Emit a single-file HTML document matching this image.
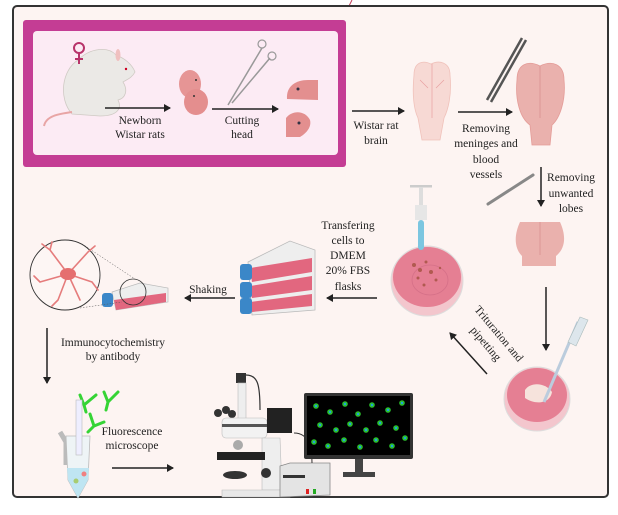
<!DOCTYPE html>
<html><head><meta charset="utf-8"><style>
html,body{margin:0;padding:0;background:#fff;}
svg{display:block;}
text{font-family:"Liberation Serif",serif;font-size:11.5px;fill:#222;text-anchor:middle;}
</style></head><body>
<svg width="618" height="515" viewBox="0 0 618 515" xmlns="http://www.w3.org/2000/svg">
<defs>
<marker id="ah" markerWidth="8" markerHeight="8" refX="6" refY="4" orient="auto" markerUnits="userSpaceOnUse"><path d="M0,0 L7,4 L0,8 z" fill="#222"/></marker>
</defs>
<rect x="0" y="0" width="618" height="515" fill="#fff"/>
<path d="M352,0 L348,8" stroke="#c43d5a" stroke-width="1"/>
<rect x="13" y="6" width="595" height="491" rx="4" fill="#fdf4f2" stroke="#333" stroke-width="2"/>
<rect x="23" y="20" width="323" height="147" rx="3" fill="#c43d94"/>
<rect x="33" y="31" width="305" height="124" rx="4" fill="#fcebf4"/>

<!-- rat -->
<path d="M72,114 C58,98 62,70 78,60 C90,48 108,46 116,55 C124,58 132,64 135,72 C132,78 126,80 123,82 C128,90 126,98 118,100 C122,108 118,116 100,116 Z" fill="#ebe9e6" stroke="#cfcac4" stroke-width="0.8"/>
<path d="M72,112 C58,114 46,116 44,126" stroke="#e8a5a5" stroke-width="2" fill="none"/>
<circle cx="126" cy="69" r="1.2" fill="#c02"/>
<ellipse cx="118" cy="55" rx="2.5" ry="6" fill="#f0c0c0"/>
<circle cx="79" cy="48" r="5" fill="none" stroke="#b8336a" stroke-width="2"/>
<path d="M79,53 L79,64 M75,59 L83,59" stroke="#b8336a" stroke-width="2"/>

<line x1="105" y1="108" x2="170" y2="108" stroke="#222" stroke-width="1.5" marker-end="url(#ah)"/>
<text x="140" y="124">Newborn</text>
<text x="140" y="138">Wistar rats</text>

<!-- pups -->
<ellipse cx="190" cy="84" rx="11" ry="14" fill="#e69595"/>
<ellipse cx="196" cy="102" rx="12" ry="13" fill="#e48e8e"/>
<circle cx="196" cy="80" r="1" fill="#333"/><circle cx="194" cy="96" r="1" fill="#333"/>
<!-- scissors -->
<path d="M228,105 L262,48 M232,103 L270,58" stroke="#999" stroke-width="1.5"/>
<circle cx="262" cy="44" r="4" fill="none" stroke="#999" stroke-width="1.2"/>
<circle cx="272" cy="56" r="4" fill="none" stroke="#999" stroke-width="1.2"/>

<line x1="212" y1="109" x2="278" y2="109" stroke="#222" stroke-width="1.5" marker-end="url(#ah)"/>
<text x="242" y="124">Cutting</text>
<text x="242" y="138">head</text>

<!-- heads -->
<path d="M287,99 C286,86 296,80 308,80 L318,80 L318,100 Z" fill="#e38f8f"/>
<path d="M286,137 L286,118 C292,110 305,110 310,120 C312,128 305,134 300,137 Z" fill="#e38f8f"/>
<circle cx="298" cy="89" r="1.5" fill="#334"/><circle cx="299" cy="123" r="1.5" fill="#334"/>

<line x1="352" y1="111" x2="404" y2="111" stroke="#222" stroke-width="1.5" marker-end="url(#ah)"/>
<text x="376" y="129">Wistar rat</text>
<text x="376" y="144">brain</text>

<!-- brain1 -->
<path d="M414,75 C414,62 423,60 431,64 C439,60 450,62 450,75 C452,95 448,110 444,118 L440,140 L422,140 L418,118 C414,110 412,95 414,75 Z" fill="#f7d9d4" stroke="#f0c2bb" stroke-width="0.8"/>
<path d="M432,64 L432,118 M420,80 L428,88 M444,80 L436,88" stroke="#e7a0a0" stroke-width="0.7" fill="none"/>
<!-- forceps -->
<path d="M487,100 L522,38 M491,102 L526,40" stroke="#555" stroke-width="2.5"/>

<line x1="458" y1="112" x2="512" y2="112" stroke="#222" stroke-width="1.5" marker-end="url(#ah)"/>
<text x="486" y="132">Removing</text>
<text x="486" y="147">meninges and</text>
<text x="486" y="163">blood</text>
<text x="486" y="178">vessels</text>

<!-- brain2 -->
<path d="M517,80 C517,64 528,60 540,66 C552,60 564,64 564,80 C566,100 560,118 552,125 L550,145 L532,145 L530,125 C520,118 515,100 517,80 Z" fill="#eab1ad" stroke="#e49c98" stroke-width="0.8"/>
<line x1="540" y1="66" x2="540" y2="118" stroke="#d99090" stroke-width="0.8"/>

<line x1="541" y1="167" x2="541" y2="206" stroke="#222" stroke-width="1.5" marker-end="url(#ah)"/>
<text x="571" y="181">Removing</text>
<text x="571" y="197">unwanted</text>
<text x="571" y="212">lobes</text>
<!-- scalpel -->
<path d="M488,204 L533,175" stroke="#888" stroke-width="3" stroke-linecap="round"/>

<!-- brain3 -->
<path d="M520,222 L560,222 C566,235 566,248 556,256 L556,266 L522,266 L522,256 C514,248 514,235 520,222 Z" fill="#eab1ad"/>
<line x1="540" y1="222" x2="540" y2="255" stroke="#d99090" stroke-width="0.8"/>

<line x1="546" y1="287" x2="546" y2="350" stroke="#222" stroke-width="1.5" marker-end="url(#ah)"/>

<!-- dish 2 -->
<ellipse cx="537" cy="399" rx="33" ry="32" fill="#f3c6cd" stroke="#ddd" stroke-width="1"/>
<ellipse cx="537" cy="395" rx="30" ry="27" fill="#e57f93"/>
<path d="M525,390 C530,382 545,382 552,392 C550,404 535,405 525,398 Z" fill="#f6e3dc"/>
<path d="M544,402 L578,322" stroke="#bcd" stroke-width="3"/>
<path d="M568,342 L580,317 L588,320 L576,346 Z" fill="#dde6ec" stroke="#abb" stroke-width="0.6"/>

<line x1="487" y1="374" x2="450" y2="333" stroke="#222" stroke-width="1.5" marker-end="url(#ah)"/>
<text transform="translate(496,336) rotate(50)">Trituration and</text>
<text transform="translate(483,346) rotate(50)">pipetting</text>

<!-- dish 1 -->
<ellipse cx="427" cy="281" rx="36" ry="35" fill="#f3c6cd" stroke="#ddd" stroke-width="1"/>
<ellipse cx="427" cy="277" rx="34" ry="30" fill="#e57f93"/>
<ellipse cx="430" cy="280" rx="18" ry="15" fill="none" stroke="#d57088" stroke-width="0.8"/>
<g fill="#b05a50"><circle cx="414" cy="265" r="2"/><circle cx="420" cy="270" r="2"/><circle cx="426" cy="262" r="1.5"/><circle cx="431" cy="272" r="2"/><circle cx="418" cy="278" r="1.5"/><circle cx="436" cy="280" r="1.5"/><circle cx="424" cy="285" r="1.5"/><circle cx="440" cy="268" r="1.2"/></g>
<rect x="410" y="185" width="22" height="2.5" fill="#ccc"/>
<rect x="419" y="187" width="4" height="20" fill="#ddd"/>
<rect x="415" y="205" width="12" height="15" fill="#e6e6e6"/>
<rect x="418" y="220" width="6" height="30" rx="3" fill="#7cc6e0"/>

<line x1="377" y1="298" x2="327" y2="298" stroke="#222" stroke-width="1.5" marker-end="url(#ah)"/>
<text x="348" y="229">Transfering</text>
<text x="348" y="244">cells to</text>
<text x="348" y="259">DMEM</text>
<text x="348" y="274">20% FBS</text>
<text x="348" y="290">flasks</text>

<!-- flasks stack -->
<path d="M248,262 L290,241 L315,250 L315,310 L252,315 Z" fill="#eeeeee" stroke="#bbb" stroke-width="0.8"/>
<path d="M250,268 L312,258 L312,272 L252,282 Z" fill="#e2677f"/>
<path d="M250,286 L312,276 L312,290 L252,298 Z" fill="#e2677f"/>
<path d="M250,302 L312,294 L312,306 L252,312 Z" fill="#e2677f"/>
<rect x="240" y="264" width="12" height="16" rx="3" fill="#3b87c8"/>
<rect x="240" y="282" width="12" height="16" rx="3" fill="#3b87c8"/>
<rect x="240" y="298" width="12" height="16" rx="3" fill="#3b87c8"/>

<line x1="235" y1="298" x2="185" y2="298" stroke="#222" stroke-width="1.5" marker-end="url(#ah)"/>
<text x="208" y="293">Shaking</text>

<!-- small flask & zoom circle -->
<path d="M112,292 L140,283 L168,288 L168,302 L116,310 Z" fill="#eee" stroke="#bbb" stroke-width="0.7"/>
<path d="M114,300 L166,293 L166,302 L116,310 Z" fill="#e2677f"/>
<rect x="102" y="293" width="11" height="14" rx="3" fill="#3b87c8"/>
<circle cx="133" cy="292" r="13" fill="none" stroke="#333" stroke-width="0.8"/>
<line x1="82" y1="244" x2="135" y2="279" stroke="#555" stroke-width="0.5" stroke-dasharray="1.5,1.5"/>
<line x1="80" y1="308" x2="122" y2="302" stroke="#555" stroke-width="0.5" stroke-dasharray="1.5,1.5"/>
<circle cx="65" cy="275" r="35" fill="#fdf6f4" stroke="#333" stroke-width="0.9"/>
<g stroke="#e57c7c" stroke-width="1.6" fill="none" stroke-linecap="round">
<path d="M68,274 L50,250 M68,274 L88,252 M68,274 L40,282 M68,274 L92,282 M68,274 L58,300 M68,274 L80,300 M50,250 L42,244 M50,250 L52,242 M88,252 L95,246 M40,282 L34,276 M92,282 L98,290 M58,300 L52,306"/>
</g>
<ellipse cx="68" cy="274" rx="8" ry="6" fill="#e56f6f"/>

<line x1="47" y1="328" x2="47" y2="383" stroke="#222" stroke-width="1.5" marker-end="url(#ah)"/>
<text x="113" y="346">Immunocytochemistry</text>
<text x="113" y="360">by antibody</text>

<!-- antibodies -->
<g stroke="#35d435" stroke-width="3" fill="none" stroke-linecap="round">
<path d="M80,395 L84,405 L96,395 M84,405 L86,412"/>
<path d="M104,392 L108,402 L118,392 M108,402 L106,410"/>
<path d="M90,414 L94,426 L104,422 M94,426 L88,432"/>
</g>
<!-- tube -->
<path d="M60,432 L66,442 L66,465" stroke="#bbb" stroke-width="5" fill="none"/>
<path d="M66,436 L90,436 L88,480 L78,498 L68,480 Z" fill="#eef4f6" stroke="#bbb" stroke-width="0.8"/>
<path d="M67,468 L89,468 L88,480 L78,498 L68,480 Z" fill="#bfe5f2"/>
<rect x="76" y="400" width="6" height="55" fill="#eef" stroke="#bbb" stroke-width="0.6"/>
<circle cx="84" cy="474" r="2.5" fill="#f08080"/><circle cx="76" cy="481" r="2.5" fill="#a8cc70"/>

<text x="132" y="435">Fluorescence</text>
<text x="132" y="449">microscope</text>
<line x1="112" y1="468" x2="173" y2="468" stroke="#222" stroke-width="1.5" marker-end="url(#ah)"/>

<!-- microscope -->
<rect x="236" y="373" width="10" height="10" fill="#333"/>
<rect x="238" y="383" width="8" height="40" fill="#eee" stroke="#bbb" stroke-width="0.6"/>
<path d="M246,375 C258,375 260,385 260,410" stroke="#333" stroke-width="1.2" fill="none"/>
<circle cx="218" cy="413" r="4" fill="#333"/><circle cx="226" cy="410" r="4" fill="#333"/><circle cx="232" cy="414" r="4" fill="#333"/>
<rect x="222" y="418" width="45" height="20" rx="4" fill="#f2f2f2" stroke="#bbb" stroke-width="0.6"/>
<rect x="222" y="424" width="45" height="3" fill="#555"/>
<rect x="267" y="408" width="25" height="25" fill="#222"/>
<path d="M262,438 L280,438 L282,490 L262,490 Z" fill="#eee" stroke="#bbb" stroke-width="0.6"/>
<rect x="217" y="452" width="48" height="8" fill="#222"/>
<circle cx="238" cy="445" r="5" fill="#aaa"/>
<ellipse cx="235" cy="475" rx="12" ry="4" fill="#333"/>
<path d="M222,490 L290,490 L290,497 L222,497 Z" fill="#e8e8e8" stroke="#bbb" stroke-width="0.6"/>
<circle cx="266" cy="473" r="5" fill="#333"/>
<!-- power box -->
<path d="M280,466 L290,463 L330,463 L330,495 L280,497 Z" fill="#e4e4e4" stroke="#888" stroke-width="0.8"/>
<rect x="283" y="475" width="22" height="3" fill="#333"/>
<rect x="306" y="489" width="3" height="5" fill="#d22"/><rect x="313" y="489" width="3" height="5" fill="#2a2"/>
<path d="M294,433 C310,433 312,450 312,463" stroke="#333" stroke-width="1" fill="none"/>
<!-- monitor -->
<rect x="304" y="393" width="109" height="66" rx="2" fill="#333"/>
<rect x="307" y="396" width="103" height="59" fill="#000"/>
<rect x="355" y="459" width="8" height="13" fill="#444"/>
<rect x="343" y="472" width="32" height="5" fill="#444"/>
<g fill="#1fa0e0" stroke="#2bbf2b" stroke-width="1.6">
<circle cx="316" cy="406" r="2"/><circle cx="330" cy="412" r="2"/><circle cx="345" cy="404" r="2"/><circle cx="358" cy="414" r="2"/><circle cx="372" cy="405" r="2"/><circle cx="388" cy="410" r="2"/><circle cx="402" cy="403" r="2"/>
<circle cx="320" cy="425" r="2"/><circle cx="336" cy="430" r="2"/><circle cx="350" cy="424" r="2"/><circle cx="366" cy="430" r="2"/><circle cx="380" cy="423" r="2"/><circle cx="396" cy="428" r="2"/>
<circle cx="314" cy="442" r="2"/><circle cx="328" cy="446" r="2"/><circle cx="344" cy="440" r="2"/><circle cx="360" cy="447" r="2"/><circle cx="376" cy="440" r="2"/><circle cx="392" cy="446" r="2"/><circle cx="405" cy="438" r="2"/>
</g>
</svg>
</body></html>
